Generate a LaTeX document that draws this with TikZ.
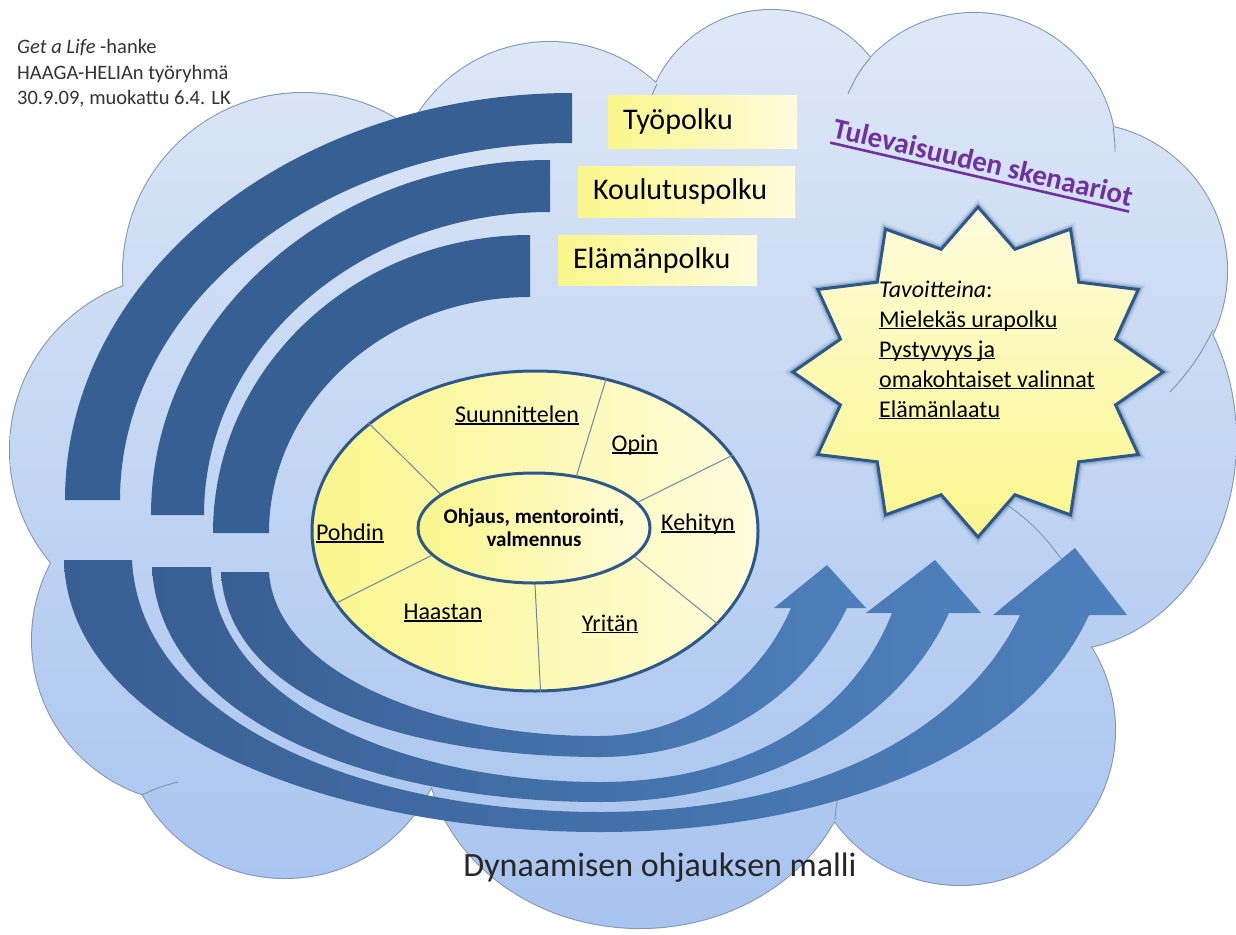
\documentclass[tikz,border=0pt]{standalone}
\usepackage{fontspec}
\setmainfont{Carlito}
\usetikzlibrary{positioning,shapes.geometric}

\definecolor{cloudtop}{HTML}{DEE8F7}
\definecolor{cloudbot}{HTML}{A7C3EF}
\definecolor{cloudline}{HTML}{8193B4}
\definecolor{archblue}{HTML}{365F94}
\definecolor{bandleft}{HTML}{385F93}
\definecolor{bandright}{HTML}{4E80BD}
\definecolor{rimblue}{HTML}{2E5887}
\definecolor{spokeblue}{HTML}{6D86A3}
\definecolor{richyellow}{HTML}{FAF68C}
\definecolor{paleyellow}{HTML}{FEFCDC}
\definecolor{scenpurple}{HTML}{7030A0}
\definecolor{inkgray}{HTML}{333333}

\newcommand{\ulabel}[1]{\setbox0=\hbox{#1}\rlap{\rule[-0.1em]{\wd0}{0.06em}}\box0}
\def\cloudlobes{303/273/180/180, 550/199/157/157, 771/137/127/127, 974/155/142/142,
  1079/271/148/148, 1060/440/176/210, 960/730/155/155, 640/740/215/188,
  285/715/163/163, 195/640/163/163, 185/450/175/175}

\tikzset{
  cloudrim/.style={draw=cloudline, line width=2},
  cloudfold/.style={draw=cloudline, line width=0.9},
  header/.style={inner sep=0, text=inkgray, font=\fontsize{20.5}{25}\selectfont},
  pathbox/.style={left color=richyellow, right color=paleyellow, inner xsep=15, inner ysep=0,
    align=left, font=\fontsize{30}{36}\selectfont},
  wheelshape/.style={ellipse, draw=rimblue, line width=3, left color=richyellow,
    right color=paleyellow, inner sep=0},
  spoke/.style={draw=spokeblue, line width=1},
  phase/.style={inner sep=0, font=\fontsize{24}{28}\selectfont},
  hubtext/.style={inner sep=0, align=center, font=\bfseries\fontsize{21}{23}\selectfont},
  scenario/.style={inner sep=0, text=scenpurple, font=\bfseries\fontsize{29}{34}\selectfont},
  goal/.style={inner sep=0, font=\fontsize{24}{29}\selectfont},
  band/.style={left color=bandleft, right color=bandright}
}

\begin{document}
\begin{tikzpicture}[x=1pt, y=-1pt]
\useasboundingbox (0,0) rectangle (1236,934);
\fill[white] (0,0) rectangle (1236,934);

% cloud
\draw[cloudrim] \foreach \cx/\cy/\rx/\ry in \cloudlobes {(\cx,\cy) ellipse [x radius=\rx, y radius=\ry]};
\shade[top color=cloudtop, bottom color=cloudbot]
  \foreach \cx/\cy/\rx/\ry in \cloudlobes {(\cx,\cy) ellipse [x radius=\rx, y radius=\ry]}
  (620,470) ellipse [x radius=470, y radius=330];
% folds of the cloud
\draw[cloudfold] (657,84) to[bend right=8] (650,104);
\draw[cloudfold] (870,58) to[bend right=8] (848,94);
\draw[cloudfold] (1113,127) to[bend left=4] (1115,152);
\draw[cloudfold] (1213,330) to[bend left=8] (1170,392);
\draw[cloudfold] (1000,500) to[bend left=10] (1062,560);
\draw[cloudfold] (835,820) to[bend left=6] (840,790);
\draw[cloudfold] (142,795) to[bend left=6] (178,782);

% header
\node[header, anchor=base west] (project) at (17,54) {\textit{Get a Life} -hanke};
\node[header, anchor=base west] (team) at (17,79) {HAAGA-HELIAn työryhmä};
\node[header, anchor=base west] (date) at (17,104) {30.9.09, muokattu 6.4. LK};

% arches
\foreach \cx/\cy/\ro/\so/\ri/\si in {572/500/507/407/452/357, 550/515/399/355/346/303, 530/533/317/298/261/236}
  \fill[archblue] (\cx,{\cy-\so}) arc[start angle=270, end angle=180, x radius=\ro, y radius=\so]
    -- ({\cx-\ri},\cy) arc[start angle=180, end angle=270, x radius=\ri, y radius=\si] -- cycle;

% bands with arrow heads
\shade[band] (64,560) .. controls (68,730) and (330,832) .. (600,832)
  .. controls (810,832) and (1020,765) .. (1089,615) -- (1127,615) -- (1075,548) -- (993,615) -- (1020,615)
  .. controls (960,740) and (800,812) .. (600,812) .. controls (360,812) and (140,720) .. (132,560) -- cycle;
\shade[band] (152,567) .. controls (160,725) and (380,802) .. (600,802)
  .. controls (765,802) and (900,722) .. (949,613) -- (981,613) -- (935,560) -- (866,613) -- (892,613)
  .. controls (850,720) and (740,782) .. (600,782) .. controls (400,782) and (215,700) .. (211,567) -- cycle;
\shade[band] (221,572) .. controls (228,705) and (420,757) .. (600,757)
  .. controls (705,757) and (800,705) .. (847,608) -- (866,608) -- (827,565) -- (774,608) -- (791,608)
  .. controls (760,680) and (690,735) .. (600,736) .. controls (430,737) and (275,670) .. (269,572) -- cycle;

% path labels
\node[pathbox, minimum width=189, minimum height=53, text width=159] (work) at (702.5,121.5) {Työpolku};
\node[pathbox, minimum width=217, minimum height=51, text width=187] (study) at (686.5,191.5) {Koulutuspolku};
\node[pathbox, minimum width=199, minimum height=50, text width=169] (life) at (657.5,260) {Elämänpolku};

% wheel
\node[wheelshape, minimum width=446, minimum height=320] (wheel) at (535,531) {};
\node[wheelshape, minimum width=232, minimum height=110] (hub) at (534,528) {};
\foreach \h/\w in {160/147, 51/65, 14/21, -16/-27, -89/-88, 195/200}
  \draw[spoke] (hub.\h) -- (wheel.\w);
\node[hubtext] (hubtxt) at (hub) {Ohjaus, mentorointi,\\valmennus};
\node[phase] (plan) at (517,415) {\ulabel{Suunnittelen}};
\node[phase] (learn) at (635,445) {\ulabel{Opin}};
\node[phase] (grow) at (698,524) {\ulabel{Kehityn}};
\node[phase] (try) at (610,624) {\ulabel{Yritän}};
\node[phase] (challenge) at (443,613) {\ulabel{Haastan}};
\node[phase] (reflect) at (350,533) {\ulabel{Pohdin}};

% scenarios
\node[scenario, rotate=-13] (scen) at (983,162) {Tulevaisuuden skenaariot};
\draw[scenpurple, line width=2.6] ([shift={(103:5)}]scen.south west) -- ([shift={(103:5)}]scen.south east);
\foreach \lw/\op in {11/0.07, 8/0.12, 5.5/0.2}
  \draw[rimblue, line width=\lw, opacity=\op, line join=miter] (1163,372)
    \foreach \k in {1,...,23} {-- ({978+185*(1-0.23*mod(\k,2))*cos(15*\k)}, {372+165*(1-0.23*mod(\k,2))*sin(15*\k)})} -- cycle;
\draw[rimblue, line width=3, line join=miter, top color=paleyellow, bottom color=richyellow] (1163,372)
  \foreach \k in {1,...,23} {-- ({978+185*(1-0.23*mod(\k,2))*cos(15*\k)}, {372+165*(1-0.23*mod(\k,2))*sin(15*\k)})} -- cycle;
\node[goal, anchor=base west] (aim) at (879,297) {\textit{Tavoitteina}:};
\foreach \t [count=\i] in {Mielekäs urapolku, Pystyvyys ja, omakohtaiset valinnat, Elämänlaatu}
  \node[goal, anchor=base west] (goal\i) at (879,{297+30*\i}) {\ulabel{\t}};

% title
\node[font=\fontsize{34}{40}\selectfont, text=black!85, inner sep=0] (model) at (660,868) {Dynaamisen ohjauksen malli};
\end{tikzpicture}
\end{document}
